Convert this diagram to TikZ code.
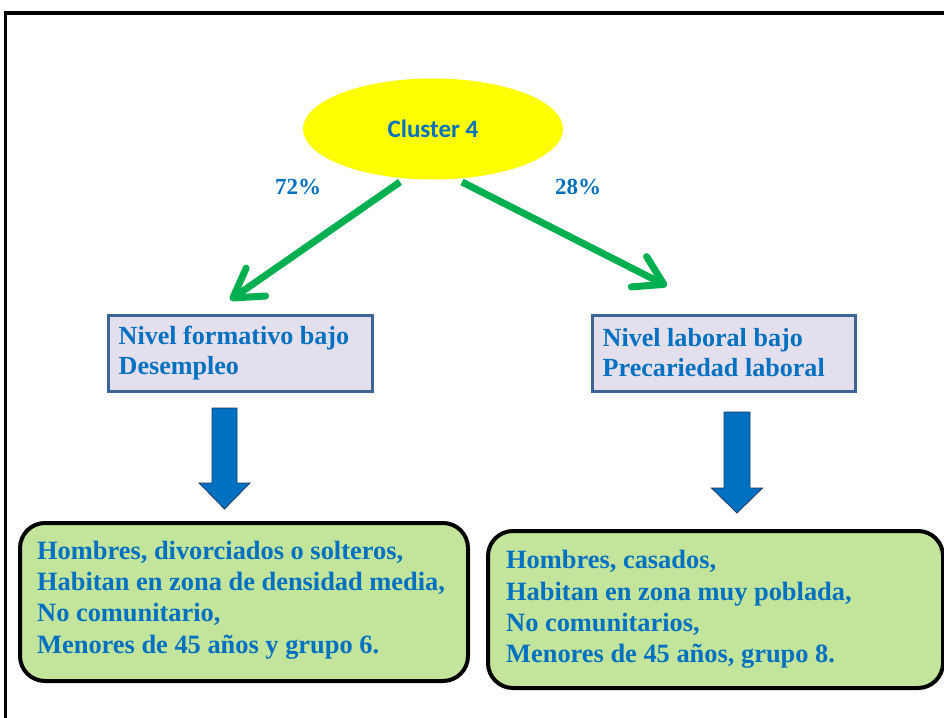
\documentclass[tikz,border=0pt]{standalone}
\usepackage{fontspec}
\setmainfont{Liberation Serif}
\newfontfamily\calibfont{Carlito}
\usetikzlibrary{arrows.meta,shapes.geometric}
\definecolor{txtblue}{RGB}{0,112,192}
\definecolor{arrgreen}{RGB}{0,176,80}
\definecolor{boxlilac}{RGB}{228,223,236}
\definecolor{boxedge}{RGB}{61,100,150}
\definecolor{boxgreen}{RGB}{194,228,155}
\definecolor{arrnavy}{RGB}{31,56,100}
\definecolor{puryellow}{RGB}{255,255,0}
\tikzset{
  pbox/.style={draw=boxedge, line width=3pt, fill=boxlilac, inner sep=0pt},
  gbox/.style={draw=black, line width=4pt, fill=boxgreen, rounded corners=25pt, inner sep=0pt},
  btext/.style={anchor=west, align=left, inner sep=0pt, text=txtblue, font=\bfseries\fontsize{26}{30.5}\selectfont},
  garrow/.style={draw=arrgreen, line width=7pt, -{Straight Barb[length=28pt,width=34pt,round]}},
  bluearr/.style={draw=arrnavy, line width=0.8pt, fill=txtblue, line join=miter},
  pct/.style={text=txtblue, font=\bfseries\fontsize{23}{27}\selectfont}
}
\begin{document}
\begin{tikzpicture}[x=1pt,y=-1pt]
\useasboundingbox (0,0) rectangle (944,717);
\fill[white] (0,0) rectangle (944,717);
\draw[line width=3.5pt] (5.5,740) -- (5.5,13) -- (960,13);

\node[ellipse, fill=puryellow, minimum width=260pt, minimum height=101pt, inner sep=0pt,
  text=txtblue, font=\calibfont\bfseries\fontsize{25}{30}\selectfont] (cl) at (433,129) {Cluster 4};

\node[pct] (p72) at (298,187) {72\%};
\node[pct] (p28) at (578,187) {28\%};

\coordinate (l1) at (400,182);
\coordinate (l2) at (230,300);
\coordinate (r1) at (462,182);
\coordinate (r2) at (667,286);
\draw[garrow] (l1) -- (l2);
\draw[garrow] (r1) -- (r2);

\node[pbox, minimum width=264pt, minimum height=76pt] (nb1) at (240,353) {};
\node[btext, font=\bfseries\fontsize{26.1}{30}\selectfont] (nb1t) at ([xshift=12pt]nb1.west) {Nivel formativo bajo\\Desempleo};
\node[pbox, minimum width=263pt, minimum height=76pt] (nb2) at (723.5,353) {};
\node[btext, font=\bfseries\fontsize{26.1}{30}\selectfont] (nb2t) at ([xshift=12pt]nb2.west) {Nivel laboral bajo\\Precariedad laboral};

\coordinate (d1) at (224.5,408);
\draw[bluearr] (d1) ++(-12.5,0) -- ++(25,0) -- ++(0,75) -- ++(13,0) -- ++(-25.5,26) -- ++(-25.5,-26) -- ++(13,0) -- cycle;
\coordinate (d2) at (737,412);
\draw[bluearr] (d2) ++(-13,0) -- ++(26,0) -- ++(0,76) -- ++(12.5,0) -- ++(-25.5,25) -- ++(-25.5,-25) -- ++(12.5,0) -- cycle;

\node[gbox, minimum width=448pt, minimum height=158pt] (g1) at (244,602) {};
\node[btext, font=\bfseries\fontsize{26.4}{31.3}\selectfont] (g1t) at ([xshift=19pt,yshift=2pt]g1.west)
  {Hombres, divorciados o solteros,\\Habitan en zona de densidad media,\\No comunitario,\\Menores de 45 años y grupo 6.};
\node[gbox, minimum width=455pt, minimum height=157pt] (g2) at (715.5,609.5) {};
\node[btext, font=\bfseries\fontsize{26.4}{31.3}\selectfont] (g2t) at ([xshift=20pt]g2.west)
  {Hombres, casados,\\Habitan en zona muy poblada,\\No comunitarios,\\Menores de 45 años, grupo 8.};
\end{tikzpicture}
\end{document}
